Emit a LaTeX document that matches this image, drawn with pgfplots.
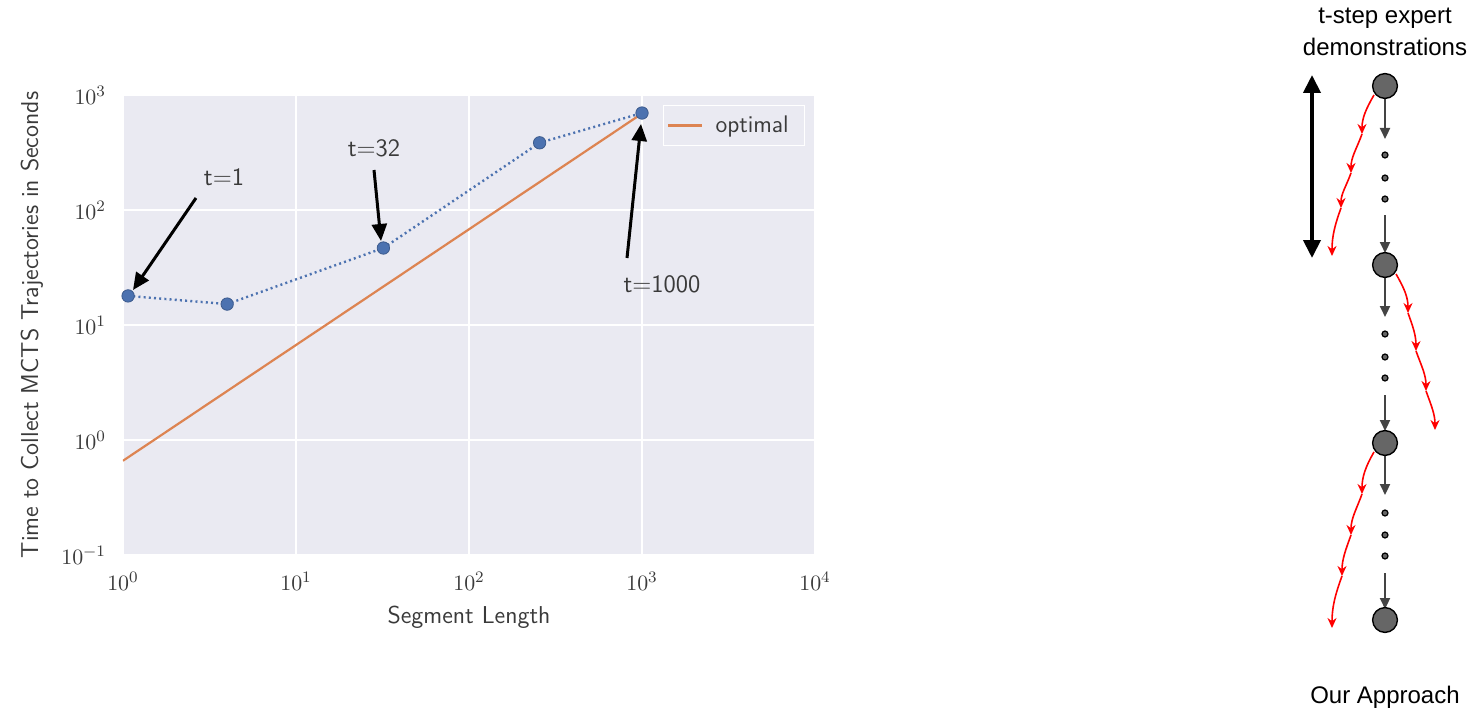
\documentclass[border=0pt]{standalone}
\usepackage{fontspec}
\usepackage{pgfplots}
\pgfplotsset{compat=1.18}
\usetikzlibrary{arrows.meta}
\newfontfamily\arialfont{Liberation Sans}
\definecolor{sbbg}{HTML}{EAEAF2}
\definecolor{sbblue}{HTML}{4C72B0}
\definecolor{sborange}{HTML}{DD8452}
\definecolor{txtgray}{HTML}{3A3A3A}
\definecolor{nodegray}{HTML}{666666}
\definecolor{arrgray}{HTML}{444444}
\begin{document}
\begin{tikzpicture}
\path[use as bounding box] (0,0) rectangle (736.5pt,357pt);
\begin{axis}[
  at={(61.5pt,79.5pt)}, anchor=south west,
  scale only axis, width=346pt, height=230pt,
  xmode=log, ymode=log,
  xmin=1, xmax=10000, ymin=0.1, ymax=1000,
  xtick={1,10,100,1000,10000}, ytick={0.1,1,10,100,1000},
  minor tick num=0, minor xtick={}, minor ytick={},
  axis background/.style={fill=sbbg},
  grid=major, major grid style={white, line width=0.9pt},
  tick style={draw=none},
  axis line style={draw=none},
  ticklabel style={text=txtgray, font=\fontsize{11}{13}\selectfont},
  xticklabel style={yshift=-5pt},
  yticklabel style={xshift=-5pt},
  xlabel={Segment Length},
  ylabel={Time to Collect MCTS Trajectories in Seconds},
  label style={font=\sffamily\fontsize{12.2}{14}\selectfont, text=txtgray},
  xlabel style={at={(axis description cs:0.5,0)}, anchor=center, yshift=-31pt},
  ylabel style={at={(axis description cs:0,0.5)}, anchor=center, xshift=0pt, yshift=45.5pt},
  legend style={at={(0.986,0.978)}, anchor=north east, fill=sbbg, draw=white, line width=0.6pt,
    font=\sffamily\fontsize{12}{14}\selectfont, text=txtgray, inner xsep=2pt, inner ysep=3pt,
    nodes={inner xsep=6pt}},
  legend image code/.code={\draw[#1] (0pt,0pt) -- (17pt,0pt);},
]
\addplot[sborange, line width=1.1pt] coordinates {(1,0.66) (1000,690)};
\addlegendentry{optimal}
\addplot[forget plot, sbblue, line width=1.2pt, dash pattern=on 1pt off 1.6pt,
  mark=*, mark size=3.1pt, mark options={solid, fill=sbblue, draw=sbblue!80!black, line width=0.4pt}]
  coordinates {(1.07,17.9) (4,15.2) (32,46.7) (256,384) (1000,697)};
\end{axis}
\begin{scope}[x=0.5pt, y=-0.5pt, yshift=357pt]
  % plot annotations
  \tikzset{ann/.style={line width=1.5pt, -{Triangle[width=7.5pt,length=8.5pt]}}}
  \draw[ann] (196,198) -- (133,290);
  \draw[ann] (374,170) -- (381,241);
  \draw[ann] (627,258) -- (641,124);
  \node[font=\sffamily\fontsize{12.5}{14}\selectfont, text=txtgray] at (224,177) {t=1};
  \node[font=\sffamily\fontsize{12.5}{14}\selectfont, text=txtgray] at (374,148) {t=32};
  \node[font=\sffamily\fontsize{12.5}{14}\selectfont, text=txtgray] at (662,284) {t=1000};
  % diagram
  \node[font=\arialfont\fontsize{12}{14}\selectfont] at (1385,18) {t-step expert};
  \node[font=\arialfont\fontsize{12}{14}\selectfont] at (1385,47) {demonstrations};
  \node[font=\arialfont\fontsize{12}{14}\selectfont] at (1385,697) {Our Approach};
  % double arrow
  \draw[line width=2pt, {Triangle[width=8.5pt,length=9pt]}-{Triangle[width=8.5pt,length=9pt]}] (1312,75) -- (1312,258);
  % gray arrows
  \tikzset{ga/.style={arrgray, line width=1.1pt, -{Triangle[width=5pt,length=5.5pt]}}}
  \draw[ga] (1385,99) -- (1385,139);
  \draw[ga] (1385,215) -- (1385,253);
  \draw[ga] (1385,278) -- (1385,317);
  \draw[ga] (1385,395) -- (1385,431);
  \draw[ga] (1385,456) -- (1385,495);
  \draw[ga] (1385,573) -- (1385,609);
  % dots
  \foreach \yy in {155,178,199,334,357,378,513,535,556}
    \filldraw[fill=nodegray, draw=black, line width=0.6pt] (1385,\yy) circle (1.5pt);
  % nodes
  \foreach \yy in {86,265,443,620}
    \filldraw[fill=nodegray, draw=black, line width=0.7pt] (1385,\yy) circle (6.2pt);
  % red squiggles
  \tikzset{ra/.style={red, line width=0.8pt, -{Stealth[width=4.5pt,length=5pt]}}}
  \draw[ra] (1374,95) to[out=240,in=90] (1362,134);
  \draw[ra] (1362,134) to[out=250,in=90] (1351,173);
  \draw[ra] (1351,173) to[out=250,in=90] (1341,208);
  \draw[ra] (1341,208) to[out=250,in=90] (1332,256);
  \draw[ra] (1396,274) to[out=300,in=90] (1408,313);
  \draw[ra] (1408,313) to[out=290,in=90] (1416,351);
  \draw[ra] (1416,351) to[out=290,in=90] (1426,391);
  \draw[ra] (1426,391) to[out=290,in=90] (1435,430);
  \draw[ra] (1374,452) to[out=240,in=90] (1362,494);
  \draw[ra] (1362,494) to[out=250,in=90] (1351,535);
  \draw[ra] (1351,535) to[out=250,in=90] (1342,576);
  \draw[ra] (1342,576) to[out=250,in=90] (1332,628);
\end{scope}
\end{tikzpicture}
\end{document}
